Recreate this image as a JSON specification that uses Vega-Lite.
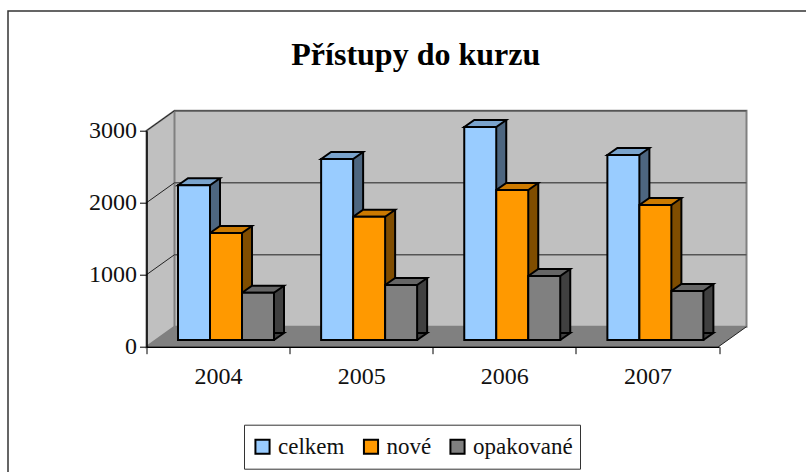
{
"$schema":"https://vega.github.io/schema/vega-lite/v6.json",
"autosize":{"type":"none"},
"padding":{"left":146.5,"top":130.7,"right":87,"bottom":125.3},
"width":572.5,"height":216,
"background":"white",
"config":{"view":{"stroke":null}},
"title":{"text":"Přístupy do kurzu","font":"Liberation Serif","fontSize":32,"fontWeight":"bold","color":"black","anchor":"middle","frame":"group","dx":-17,"offset":-64},
"datasets":{
"bars":[
{"year":"2004","series":"celkem","value":2150},{"year":"2004","series":"nové","value":1486},{"year":"2004","series":"opakované","value":657},
{"year":"2005","series":"celkem","value":2514},{"year":"2005","series":"nové","value":1712},{"year":"2005","series":"opakované","value":764},
{"year":"2006","series":"celkem","value":2958},{"year":"2006","series":"nové","value":2083},{"year":"2006","series":"opakované","value":889},
{"year":"2007","series":"celkem","value":2570},{"year":"2007","series":"nové","value":1875},{"year":"2007","series":"opakované","value":680}],
"ticks":[{"tick":1000},{"tick":2000},{"tick":3000}],
"one":[{"part":"chart"}]
},
"data":{"name":"bars"},
"layer":[
{"data":{"name":"one"},"mark":{"type":"point","opacity":1,"filled":true,"size":4,"fill":"none","stroke":"#333333","strokeWidth":1.5,"shape":"M-138.5,125.3L-138.5,-335.7L659.5,-335.7"},"encoding":{"x":{"value":0},"y":{"datum":0,"type":"quantitative","scale":{"domain":[0,3000],"nice":false},"axis":{"title":null,"zindex":1,"values":[0,1000,2000,3000],"format":"d","grid":false,"domainColor":"black","domainWidth":1.5,"tickColor":"black","tickSize":7,"tickWidth":1,"labelFont":"Liberation Serif","labelFontSize":24,"labelColor":"#111111","labelPadding":3}}}},
{"data":{"name":"one"},"mark":{"type":"point","opacity":1,"filled":true,"size":4,"fill":"#C0C0C0","stroke":"#808080","strokeWidth":2,"shape":"M0,0L28,-20L600,-20L600,-236L28,-236L0,-216Z"},"encoding":{"x":{"value":0},"y":{"datum":0,"type":"quantitative"}}},
{"data":{"name":"one"},"mark":{"type":"point","opacity":1,"filled":true,"size":4,"fill":"none","stroke":"#808080","strokeWidth":2,"shape":"M28,-20L28,-236"},"encoding":{"x":{"value":0},"y":{"datum":0,"type":"quantitative"}}},
{"data":{"name":"ticks"},"mark":{"type":"point","opacity":1,"filled":true,"size":4,"fill":"none","stroke":"#555555","strokeWidth":1.5,"shape":"M28,-20L600,-20"},"encoding":{"x":{"value":0},"y":{"field":"tick","type":"quantitative"}}},
{"data":{"name":"ticks"},"mark":{"type":"point","opacity":1,"filled":true,"size":4,"fill":"none","stroke":"#222222","strokeWidth":1,"shape":"M0,0L28,-20"},"encoding":{"x":{"value":0},"y":{"field":"tick","type":"quantitative"}}},
{"data":{"name":"one"},"mark":{"type":"point","opacity":1,"filled":true,"size":4,"fill":"#808080","stroke":"none","shape":"M0,0L28,-20L600,-20L572,0Z"},"encoding":{"x":{"value":0},"y":{"datum":0,"type":"quantitative"}}},
{"data":{"name":"one"},"mark":{"type":"point","opacity":1,"filled":true,"size":4,"fill":"none","stroke":"#222222","strokeWidth":1,"shape":"M572,0L600,-20"},"encoding":{"x":{"value":0},"y":{"datum":0,"type":"quantitative"}}},
{"mark":{"type":"rule","strokeWidth":10,"strokeCap":"butt","yOffset":-13.7,"y2Offset":-13.7},"encoding":{
 "x":{"field":"year","type":"nominal","scale":{"type":"band","paddingInner":0,"paddingOuter":0},"axis":{"title":null,"zindex":1,"tickBand":"extent","domainColor":"black","domainWidth":1.5,"tickColor":"black","tickSize":7,"tickWidth":1,"labelAngle":0,"labelFont":"Liberation Serif","labelFontSize":24,"labelColor":"#111111","labelPadding":11}},
 "xOffset":{"field":"series","type":"nominal","sort":["celkem","nové","opakované"],"scale":{"type":"band","paddingInner":0,"paddingOuter":0,"range":[52.5,148.5]}},
 "y":{"field":"value","type":"quantitative"},
 "y2":{"datum":0},
 "color":{"field":"series","type":"nominal","legend":null,"scale":{"domain":["celkem","nové","opakované"],"range":["#4D6680","#804D00","#404040"]}}}},
{"mark":{"type":"point","opacity":1,"filled":true,"size":4,"stroke":"black","strokeWidth":2,"yOffset":-6.7,"shape":"M16,0L26,-7L16,-7"},"encoding":{
 "x":{"field":"year","type":"nominal"},
 "xOffset":{"field":"series","type":"nominal","sort":["celkem","nové","opakované"],"scale":{"type":"band","paddingInner":0,"paddingOuter":0,"range":[31.5,127.5]}},
 "y":{"datum":0,"type":"quantitative"},
 "fill":{"field":"series","type":"nominal","legend":null,"scale":{"domain":["celkem","nové","opakované"],"range":["#4D6680","#804D00","#404040"]}}}},
{"mark":{"type":"rule","stroke":"black","strokeWidth":2,"yOffset":-13.7,"y2Offset":-13.7},"encoding":{
 "x":{"field":"year","type":"nominal"},
 "xOffset":{"field":"series","type":"nominal","sort":["celkem","nové","opakované"],"scale":{"type":"band","paddingInner":0,"paddingOuter":0,"range":[57.5,153.5]}},
 "y":{"field":"value","type":"quantitative"},"y2":{"datum":0}}},
{"mark":{"type":"point","opacity":1,"filled":true,"size":4,"stroke":"black","strokeWidth":2,"yOffset":-6.7,"shape":"M-16,0L-6,-7L26,-7L16,0Z"},"encoding":{
 "x":{"field":"year","type":"nominal"},
 "xOffset":{"field":"series","type":"nominal","sort":["celkem","nové","opakované"],"scale":{"type":"band","paddingInner":0,"paddingOuter":0,"range":[31.5,127.5]}},
 "y":{"field":"value","type":"quantitative"},
 "fill":{"field":"series","type":"nominal","legend":null,"scale":{"domain":["celkem","nové","opakované"],"range":["#7AA3CC","#CC7A00","#666666"]}}}},
{"mark":{"type":"bar","stroke":"black","strokeWidth":2,"yOffset":-6.7,"y2Offset":-6.7},"encoding":{
 "x":{"field":"year","type":"nominal"},
 "xOffset":{"field":"series","type":"nominal","sort":["celkem","nové","opakované"],"scale":{"type":"band","paddingInner":0,"paddingOuter":0,"range":[31.5,127.5]}},
 "y":{"field":"value","type":"quantitative"},"y2":{"datum":0},
 "fillOpacity":{"value":1},
 "fill":{"field":"series","type":"nominal","title":null,"scale":{"domain":["celkem","nové","opakované"],"range":["#99CCFF","#FF9900","#808080"]},
  "legend":{"orient":"none","direction":"horizontal","legendX":97.5,"legendY":294,"symbolType":"square","symbolSize":200,"symbolStrokeColor":"black","symbolStrokeWidth":2,"symbolOpacity":1,"labelFont":"Liberation Serif","labelFontSize":23,"labelColor":"#111111","labelLimit":200,"columnPadding":14.5,"padding":7,"clipHeight":30,"strokeColor":"#333333","fillColor":"white","symbolOffset":0}}}}
],
"resolve":{"scale":{"xOffset":"independent","fill":"independent","color":"independent"}}
}
